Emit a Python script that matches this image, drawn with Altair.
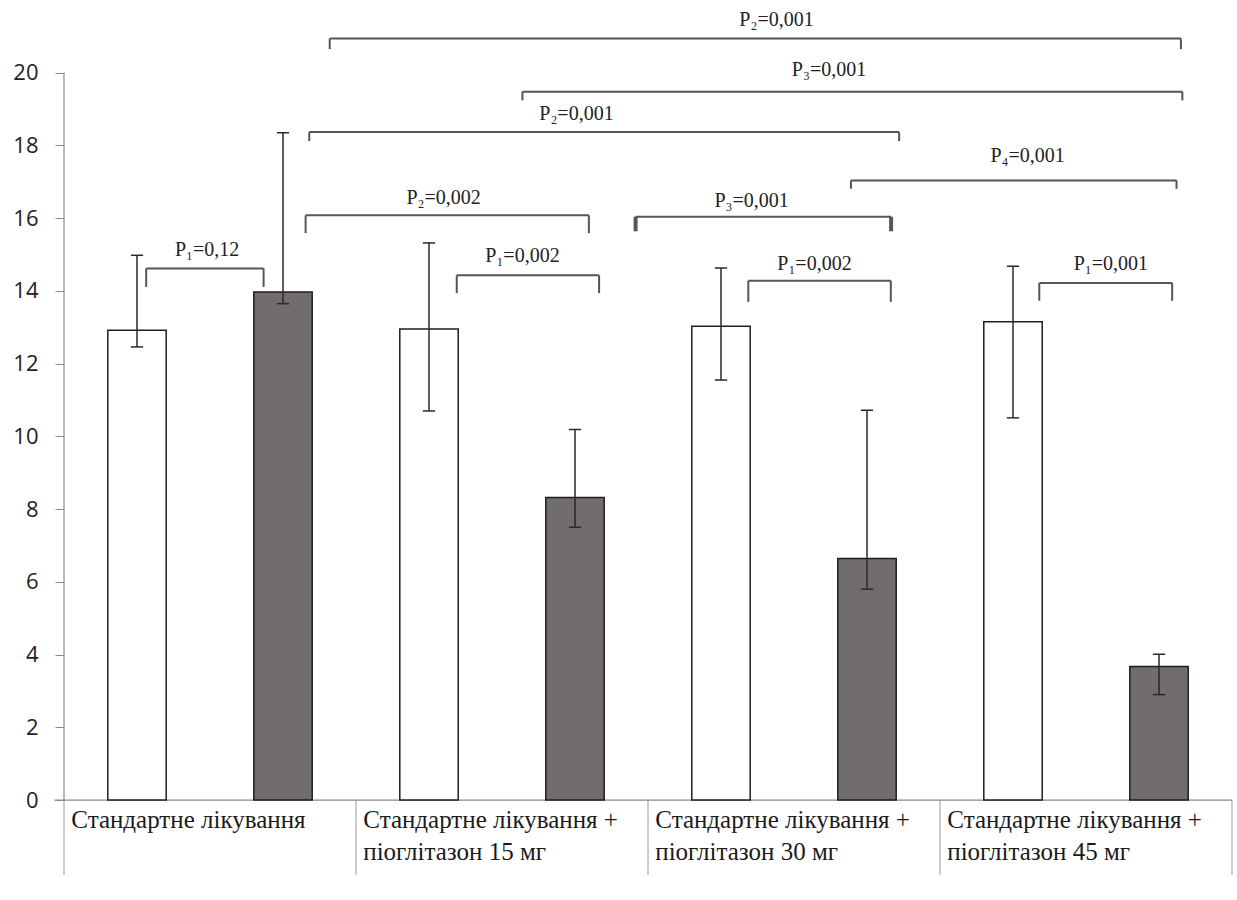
import altair as alt
import pandas as pd

# ---------------- data ----------------
groups = [
    "Стандартне лікування",
    "Стандартне лікування +\nпіоглітазон 15 мг",
    "Стандартне лікування +\nпіоглітазон 30 мг",
    "Стандартне лікування +\nпіоглітазон 45 мг",
]
white_vals = [12.92, 12.95, 13.03, 13.15]
white_lo = [12.46, 10.70, 11.55, 10.51]
white_hi = [14.98, 15.32, 14.63, 14.68]
gray_vals = [13.97, 8.32, 6.64, 3.67]
gray_lo = [13.65, 7.50, 5.80, 2.90]
gray_hi = [18.35, 10.19, 10.72, 4.01]

y_ticks = [0, 2, 4, 6, 8, 10, 12, 14, 16, 18, 20]

br_labels = ["P₂=0,001", "P₃=0,001", "P₂=0,001", "P₄=0,001", "P₂=0,002",
             "P₃=0,001", "P₁=0,12", "P₁=0,002", "P₁=0,002", "P₁=0,001"]
br_x1 = [1.82, 3.14, 1.68, 5.39, 1.655, 3.915, 0.563, 2.69, 4.687, 6.68]
br_x2 = [7.65, 7.66, 5.72, 7.62, 3.595, 5.665, 1.367, 3.665, 5.663, 7.59]
br_line = [20.94, 19.48, 18.37, 17.04, 16.08, 16.04, 14.62, 14.43, 14.28, 14.22]
br_tip = [20.65, 19.24, 18.12, 16.81, 15.59, 15.64, 14.11, 13.94, 13.70, 13.73]
br_text_x = [4.88, 5.24, 3.51, 6.60, 2.60, 4.71, 0.98, 3.14, 5.14, 7.17]
br_text_y = [21.46, 20.07, 18.87, 17.71, 16.56, 16.47, 15.12, 14.96, 14.75, 14.75]
br_tip_w = [2, 2, 2, 2, 2, 4, 2, 2, 2, 2]

SERIF = "Liberation Serif"

# ---------------- tables ----------------
n = len(groups)
bars = []
for i in range(n):
    for k, (v, lo, hi, col) in enumerate([
        (white_vals[i], white_lo[i], white_hi[i], "white"),
        (gray_vals[i], gray_lo[i], gray_hi[i], "gray"),
    ]):
        c = 2 * i + k + 0.5
        bars.append(dict(c=c, x0=c - 0.2, x1=c + 0.2, v=v, lo=lo, hi=hi,
                         cl=c - 0.042, cr=c + 0.042, kind=col))
bars = pd.DataFrame(bars)

segs = []
for j in range(len(br_labels)):
    segs.append(dict(x=br_x1[j], x2=br_x2[j], y=br_line[j], y2=br_line[j], w=2))
    segs.append(dict(x=br_x1[j], x2=br_x1[j], y=br_tip[j], y2=br_line[j], w=br_tip_w[j]))
    segs.append(dict(x=br_x2[j], x2=br_x2[j], y=br_tip[j], y2=br_line[j], w=br_tip_w[j]))
segs = pd.DataFrame(segs)

ptext = pd.DataFrame(dict(x=br_text_x, y=br_text_y, t=br_labels))

cats = pd.DataFrame(dict(x=[2 * i + 0.05 for i in range(n)], y=[-0.22] * n, t=groups))
vlines = pd.DataFrame(dict(x=[2.0 * i for i in range(n + 1)], y=[0.0] * (n + 1), y2=[-2.06] * (n + 1)))
axes_lines = pd.DataFrame(dict(x=[-0.065, 0.0], x2=[8.0, 0.0], y=[0.0, 0.0], y2=[0.0, 20.0]))

# ---------------- encodings ----------------
XS = alt.Scale(domain=[0, 8], nice=False, zero=False)
YS = alt.Scale(domain=[-2.5, 22], nice=False, zero=False)
YAX = alt.Axis(values=y_ticks, domain=False, grid=False, ticks=True, tickSize=9,
               tickColor="#8a8a8a", tickWidth=1, labelPadding=17,
               labelFont="Open Sans", labelFontSize=22, labelColor="#222222",
               title=None)


def X(f):
    return alt.X(f, type="quantitative", scale=XS, axis=None)


def Y(f):
    return alt.Y(f, type="quantitative", scale=YS, axis=YAX)


base_bars = alt.Chart(bars).mark_bar(stroke="#1e1e1e", strokeWidth=1.5).encode(
    x=X("x0"), x2="x1", y=Y("v"), y2=alt.datum(0),
    fill=alt.Fill("kind:N", scale=alt.Scale(domain=["white", "gray"],
                                            range=["#ffffff", "#726d6d"]), legend=None),
)

err = alt.Chart(bars).mark_rule(color="#2a2a2a", strokeWidth=1.5).encode(
    x=X("c"), y=Y("lo"), y2="hi")
cap_lo = alt.Chart(bars).mark_rule(color="#2a2a2a", strokeWidth=1.5).encode(
    x=X("cl"), x2="cr", y=Y("lo"))
cap_hi = alt.Chart(bars).mark_rule(color="#2a2a2a", strokeWidth=1.5).encode(
    x=X("cl"), x2="cr", y=Y("hi"))

brackets = alt.Chart(segs).mark_rule(color="#555555").encode(
    x=X("x"), x2="x2", y=Y("y"), y2="y2",
    strokeWidth=alt.StrokeWidth("w:Q", scale=None, legend=None))

plabels = alt.Chart(ptext).mark_text(font=SERIF, fontSize=20,
                                     color="#222222", align="center",
                                     baseline="middle").encode(
    x=X("x"), y=Y("y"), text="t:N")

axis_rules = alt.Chart(axes_lines).mark_rule(color="#8a8a8a", strokeWidth=1.2).encode(
    x=X("x"), x2="x2", y=Y("y"), y2="y2")

table_lines = alt.Chart(vlines).mark_rule(color="#9a9a9a", strokeWidth=1).encode(
    x=X("x"), y=Y("y"), y2="y2")

cat_text = alt.Chart(cats).mark_text(font=SERIF, fontSize=25,
                                     color="#1a1a1a", align="left", baseline="top",
                                     lineBreak="\n", lineHeight=32).encode(
    x=X("x"), y=Y("y"), text="t:N")

chart = alt.layer(
    table_lines, axis_rules, base_bars, err, cap_lo, cap_hi, brackets, plabels, cat_text
).properties(
    width=1168, height=891,
    autosize=alt.AutoSizeParams(type="none"),
    padding={"left": 64, "top": 0, "right": 5, "bottom": 0},
    background="white",
).configure_view(stroke=None)

chart.save("out.html", embed_options={"renderer": "svg", "actions": False})
